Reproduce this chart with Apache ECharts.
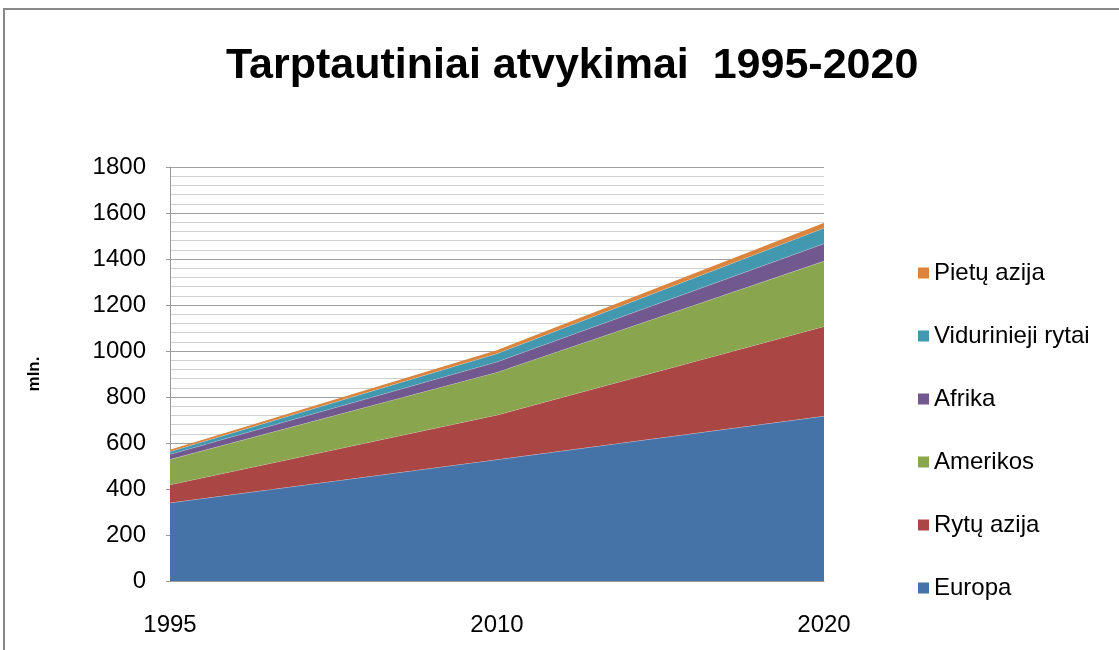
<!DOCTYPE html>
<html>
<head>
<meta charset="utf-8">
<script src="https://cdn.jsdelivr.net/npm/echarts@6/dist/echarts.min.js"></script>
<style>
html,body{margin:0;padding:0;background:#fff;}
#chart{width:1119px;height:650px;}
</style>
</head>
<body>
<div id="chart"></div>
<script>
const years = ['1995', '2010', '2020'];
const europa = [340, 528, 717];
const rytuAzija = [79, 194, 390];
const amerikos = [110, 186, 284];
const afrika = [22, 45, 76];
const viduriniai = [12, 36, 68];
const pietuAzija = [5, 11, 19];
const yTicks = [0, 200, 400, 600, 800, 1000, 1200, 1400, 1600, 1800];

const seriesNames = ['Europa', 'Rytų azija', 'Amerikos', 'Afrika', 'Vidurinieji rytai', 'Pietų azija'];
const seriesData = [europa, rytuAzija, amerikos, afrika, viduriniai, pietuAzija];
const colors = ['#4572A7', '#AA4643', '#89A54E', '#71588F', '#4198AF', '#DB843D'];

const font = 'Liberation Sans, Arial, sans-serif';
const chart = echarts.init(document.getElementById('chart'));
chart.setOption({
  animation: false,
  backgroundColor: '#fff',
  color: colors,
  title: {
    text: 'Tarptautiniai atvykimai  1995-2020',
    left: 221,
    top: 40,
    textStyle: { fontFamily: font, fontWeight: 'bold', fontSize: 43, color: '#000' }
  },
  graphic: [{
    type: 'rect', silent: true,
    shape: { x: 4, y: 9, width: 1200, height: 700 },
    style: { fill: 'none', stroke: '#888', lineWidth: 2 }
  }],
  legend: {
    orient: 'vertical',
    left: 913,
    top: 256,
    itemWidth: 11,
    itemHeight: 11,
    itemGap: 39,
    icon: 'rect',
    data: seriesNames.slice().reverse(),
    textStyle: { fontFamily: font, fontSize: 24, lineHeight: 24, color: '#000' }
  },
  grid: { left: 170, right: 295, top: 167, bottom: 69 },
  xAxis: {
    type: 'category',
    data: years,
    boundaryGap: false,
    axisLine: { lineStyle: { color: '#999', width: 1 } },
    axisTick: { show: false },
    axisLabel: { fontFamily: font, fontSize: 24, color: '#000', margin: 32 },
    splitLine: { show: false }
  },
  yAxis: {
    type: 'value',
    min: 0, max: 1800, interval: 200,
    name: 'mln.',
    nameLocation: 'middle',
    nameGap: 127,
    nameRotate: 90,
    nameTextStyle: { fontFamily: font, fontSize: 17, fontWeight: 'bold', color: '#000' },
    axisLine: { show: true, lineStyle: { color: '#999', width: 1 } },
    axisTick: { show: true, length: 4, lineStyle: { color: '#999' } },
    axisLabel: {
      fontFamily: font, fontSize: 24, color: '#000', margin: 24,
      formatter: v => yTicks.includes(v) ? String(v) : ''
    },
    splitLine: { show: true, lineStyle: { color: '#a0a0a0', width: 1 } },
    minorTick: { show: false, splitNumber: 5 },
    minorSplitLine: { show: true, lineStyle: { color: '#d0d0d0', width: 1 } }
  },
  series: seriesNames.map((n, i) => ({
    name: n,
    type: 'line',
    stack: 'total',
    data: seriesData[i],
    symbol: 'none',
    lineStyle: { width: i === 5 ? 1.5 : 1, color: i === 5 ? colors[5] : 'rgba(255,255,255,0.45)' },
    areaStyle: { color: colors[i], opacity: 1 },
    itemStyle: { color: colors[i] },
    z: 2 + i
  }))
});
</script>
</body>
</html>
